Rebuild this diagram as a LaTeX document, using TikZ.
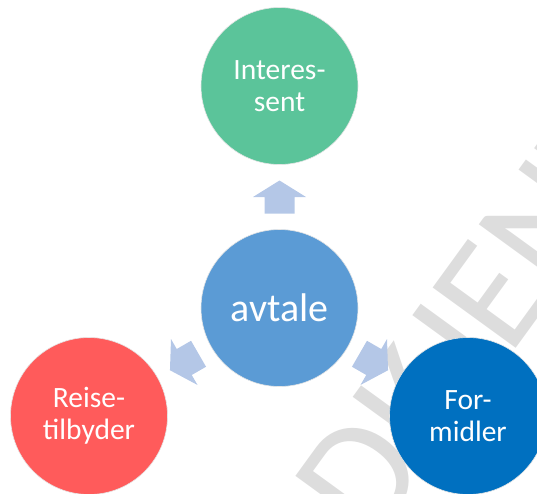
\documentclass[tikz,border=0pt]{standalone}
\usepackage{fontspec}
\setmainfont{Carlito}
\usetikzlibrary{calc}
\definecolor{cgreen}{HTML}{5BC49A}
\definecolor{cmid}{HTML}{5B9BD5}
\definecolor{cred}{HTML}{FF5B5B}
\definecolor{cblue}{HTML}{0070C0}
\definecolor{carrow}{HTML}{B4C7E7}
\definecolor{cwm}{HTML}{DDDDDD}
\newcommand\myblockarrow{\fill[carrow] (0,-16.5) -- (26.5,0) -- (15,0) -- (15,16.5) -- (-15,16.5) -- (-15,0) -- (-26.5,0) -- cycle;}
\begin{document}
\begin{tikzpicture}[x=1pt,y=-1pt,
  bubble/.style={circle,minimum size=157pt,inner sep=0pt,draw=black!10,line width=0.6pt,text=white,align=center,font=\fontsize{29.5}{32}\selectfont}]
\useasboundingbox (0,0) rectangle (537,493);
\clip (0,0) rectangle (537,493);
\node[rotate=54, text=cwm, font=\fontsize{160}{160}\selectfont, inner sep=0pt] (wm) at (415,400) {GODKJENT};
\node[bubble, fill=cgreen] (top) at (279.5,86) {Interes-\\sent};
\node[bubble, fill=cmid, font=\fontsize{40}{44}\selectfont] (mid) at (279.5,308) {avtale};
\node[bubble, fill=cred] (left) at (89,416) {Reise-\\tilbyder};
\node[bubble, fill=cblue] (right) at (468,416) {For-\\midler};
\begin{scope}[shift={($(mid)!0.5!(top)$)}]
  \myblockarrow
\end{scope}
\begin{scope}[shift={($(mid)!0.5!(left)$)}, rotate=120]
  \myblockarrow
\end{scope}
\begin{scope}[shift={($(mid)!0.5!(right)$)}, rotate=-120]
  \myblockarrow
\end{scope}
\end{tikzpicture}
\end{document}
